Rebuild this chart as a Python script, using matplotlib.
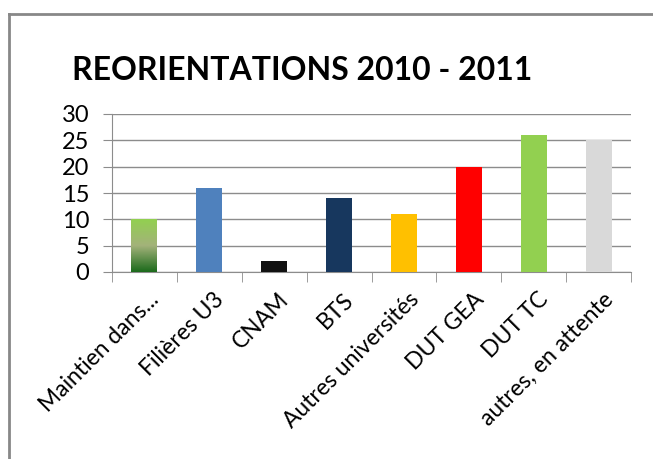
#!/usr/bin/env python3
"""Reorientations 2010 - 2011 bar chart."""
import matplotlib

matplotlib.use("Agg", force=True)
import matplotlib.pyplot as plt
import matplotlib.transforms as mtransforms
import numpy as np
from matplotlib.colors import LinearSegmentedColormap

categories = [
    "Maintien dans...",
    "Filières U3",
    "CNAM",
    "BTS",
    "Autres universités",
    "DUT GEA",
    "DUT TC",
    "autres, en attente",
]
values = [10, 16, 2, 14, 11, 20, 26, 25]
colors = ["#92D050", "#4F81BD", "#111111", "#17375E", "#FFC000", "#FF0000", "#92D050", "#D9D9D9"]

FONT = ["Lato", "DejaVu Sans"]
plt.rcParams["font.family"] = FONT

fig = plt.figure(figsize=(6.53, 4.59), dpi=100)
W, H = 653, 459
ax = fig.add_axes([112 / W, 1 - 272 / H, (631 - 112) / W, (272 - 114) / H])

x = np.arange(len(categories))
bars = ax.bar(x, values, width=0.4, color=colors, zorder=3)

# gradient fill on the first bar
grad = LinearSegmentedColormap.from_list("g", ["#1B6A1B", "#A3B27A", "#92D050"])
b0 = bars[0]
b0.set_facecolor("none")
img = ax.imshow(
    np.linspace(0, 1, 256).reshape(-1, 1),
    cmap=grad,
    origin="lower",
    aspect="auto",
    extent=[b0.get_x(), b0.get_x() + b0.get_width(), 0, values[0]],
    zorder=3,
)
img.set_clip_path(b0)

ax.set_xlim(-0.5, len(categories) - 0.5)
ax.set_ylim(0, 30)
ax.set_yticks(range(0, 31, 5))
ax.yaxis.grid(True, color="#8C8C8C", linewidth=1, zorder=0)
ax.set_axisbelow(True)

ax.set_xticks(x)
ax.set_xticklabels(categories, rotation=45, ha="right", rotation_mode="anchor", fontsize=16.5)
ax.tick_params(axis="x", length=0, pad=12)
shift = mtransforms.ScaledTranslation(4 / 100, 0, fig.dpi_scale_trans)
for lbl in ax.get_xticklabels():
    lbl.set_transform(lbl.get_transform() + shift)
ax.set_xticks(np.arange(-0.5, len(categories), 1), minor=True)
ax.tick_params(axis="x", which="minor", length=7, color="#8C8C8C")
ax.tick_params(axis="y", length=6.5, color="#8C8C8C", labelsize=17, pad=10)

for side in ["top", "right"]:
    ax.spines[side].set_visible(False)
for side in ["left", "bottom"]:
    ax.spines[side].set_color("#8C8C8C")

fig.text(302 / W, 1 - 70 / H, "REORIENTATIONS 2010 - 2011", ha="center", va="center",
         fontsize=23, fontweight="bold")

# outer chart frame (top and left edges visible)
fig.add_artist(plt.Line2D([9 / W, 1], [1 - 14 / H, 1 - 14 / H], color="#888888", linewidth=2))
fig.add_artist(plt.Line2D([9 / W, 9 / W], [0, 1 - 14 / H], color="#888888", linewidth=2))

fig.savefig("out.png", dpi=100)
